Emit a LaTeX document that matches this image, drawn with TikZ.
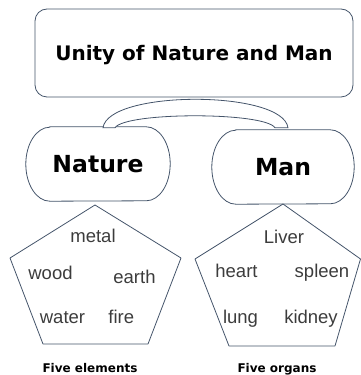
\documentclass[tikz,border=0pt]{standalone}
\usepackage{fontspec}
\setmainfont{Liberation Sans}
\newfontfamily\headfont{DejaVu Sans}
\usepackage{xcolor}
\definecolor{slate}{RGB}{68,84,106}
\definecolor{inkgrey}{RGB}{60,60,60}
\usetikzlibrary{calc}

\begin{document}
\begin{tikzpicture}[
  x=1pt, y=1pt,
  frame/.style={draw=slate, line width=0.8pt, rounded corners=12pt, inner sep=0pt,
                minimum width=318pt, minimum height=88pt, text depth=0pt,
                font=\headfont\bfseries\fontsize{20}{24}\selectfont},
  side/.style={inner sep=0pt, minimum height=74pt,
               font=\headfont\bfseries\fontsize{23.5}{28}\selectfont},
  sideline/.style={draw=slate, line width=0.8pt},
  item/.style={anchor=base, inner sep=0pt, text=inkgrey,
               font=\fontsize{18.5}{20}\selectfont},
  caption/.style={anchor=base, inner sep=0pt,
                  font=\headfont\bfseries\fontsize{12}{14}\selectfont},
  penta/.style={draw=slate, line width=0.8pt, line join=round},
  band/.style={draw=slate, line width=0.8pt, fill=white},
]
\useasboundingbox (0,0) rectangle (361,375);

% --- top ---
\node[frame] (unity) at (194,322) {Unity of Nature and Man};

% --- the two sides ---
\node[side, minimum width=144pt] (nature) at (98,211) {Nature};
\node[side, minimum width=142pt] (man) at (283,208) {Man};
\foreach \n in {nature,man} {
  \draw[sideline] ($(\n.north west)+(24,0)$) -- ($(\n.north east)+(-24,0)$)
    arc[start angle=90, end angle=-90, x radius=24, y radius=37]
    -- ($(\n.south west)+(24,0)$)
    arc[start angle=270, end angle=90, x radius=24, y radius=37] -- cycle;
}

% --- link between them ---
\coordinate (bandL) at ($(nature.north)+(5,-1)$);
\coordinate (bandR) at ($(man.north)+(5,2)$);
\draw[band] (bandL) .. controls +(5,38) and +(-5,38) .. (bandR)
  -- ++(-13,0) .. controls +(-10,16) and +(10,16) .. ($(bandL)+(12,0)$) -- cycle;

% --- five elements ---
\coordinate (e1) at (95,170);
\coordinate (e2) at (181,117);
\coordinate (e3) at (148,31);
\coordinate (e4) at (43,31);
\coordinate (e5) at (10,117);
\draw[penta] (e1) -- (e2) -- (e3) -- (e4) -- (e5) -- cycle;

\node[item] (metal) at (93,132.3) {metal};
\node[item] (wood) at (50.5,95.7) {wood};
\node[item] (earth) at (134.5,91.7) {earth};
\node[item] (water) at (62.5,51.7) {water};
\node[item] (fire) at (121.3,51.7) {fire};

% --- five organs ---
\coordinate (o1) at (283,171);
\coordinate (o2) at (360.5,116);
\coordinate (o3) at (335,29);
\coordinate (o4) at (229,29);
\coordinate (o5) at (195,116);
\draw[penta] (o1) -- (o2) -- (o3) -- (o4) -- (o5) -- cycle;

\node[item] (liver) at (284,131.7) {Liver};
\node[item] (heart) at (236.5,97.7) {heart};
\node[item] (spleen) at (322,97.7) {spleen};
\node[item] (lung) at (240.5,51.7) {lung};
\node[item] (kidney) at (311,51.7) {kidney};

% --- captions ---
\node[caption] (elements) at (90,2.3) {Five elements};
\node[caption] (organs) at (277,2.3) {Five organs};
\end{tikzpicture}
\end{document}
